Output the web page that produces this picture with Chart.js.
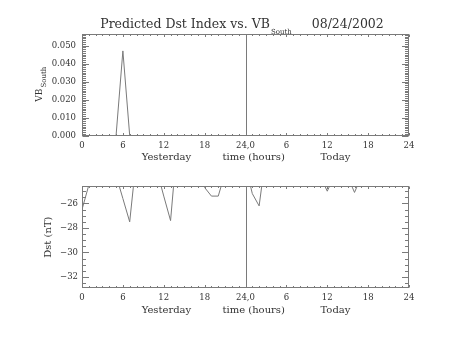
<!DOCTYPE html>
<html>
<head>
<meta charset="utf-8">
<script src="https://cdn.jsdelivr.net/npm/chart.js@4.4.0/dist/chart.umd.min.js"></script>
<style>
  html, body { margin: 0; padding: 0; background: #fff; }
  #wrap { position: relative; width: 453px; height: 340px; }
  .panel { position: absolute; left: 0; width: 453px; height: 170px; }
</style>
</head>
<body>
<div id="wrap">
  <div class="panel" style="top:0"><canvas id="vb" width="453" height="170"></canvas></div>
  <div class="panel" style="top:170px"><canvas id="dst" width="453" height="170"></canvas></div>
</div>
<script>
// hourly samples, yesterday 0-23 then today 24-47
const hours = [0, 1, 2, 3, 4, 5, 6, 7, 8, 9, 10, 11, 12, 13, 14, 15, 16, 17, 18, 19, 20, 21, 22, 23,
               24, 25, 26, 27, 28, 29, 30, 31, 32, 33, 34, 35, 36, 37, 38, 39, 40, 41, 42, 43, 44, 45, 46, 47];
const vbSouth = [0, 0, 0, 0, 0, 0, 0.047, 0, 0, 0, 0, 0, 0, 0, 0, 0, 0, 0, 0, 0, 0, 0, 0, 0,
                 0, 0, 0, 0, 0, 0, 0, 0, 0, 0, 0, 0, 0, 0, 0, 0, 0, 0, 0, 0, 0, 0, 0, 0];
const dst = [-26.5, -24.5, -23.8, -23.5, -23.6, -23.7, -25.6, -27.5, -22.2, -22.6,
             -23.1, -23.3, -25.4, -27.4, -21.0, -22.4, -23.2, -24.0, -24.7, -25.4,
             -25.4, -23.5, -23.0, -22.8, -22.9, -25.2, -26.2, -22.0, -23.0, -23.5,
             -23.8, -24.0, -23.9, -23.7, -23.9, -23.8, -25.0, -23.8, -24.0, -23.8,
             -25.1, -23.8, -24.0, -23.6, -23.2, -23.5, -23.9, -24.1];
const xTickLabels = ['0', '6', '12', '18', '24,0', '6', '12', '18', '24'];
const dayLabels = ['Yesterday', 'time (hours)', 'Today'];
const dayLabelHours = [12.4, 25.2, 37.2];
const dayBoundary = 24;

const AXIS = '#7a7a7a';
const INK = '#333333';
const SERIF = '"DejaVu Serif", serif';

function pts(ys) {
  return hours.map((h, i) => ({ x: h, y: ys[i] }));
}

// box, inward ticks, day marker and the labels under the time axis
function frame(o) {
  return {
    id: 'frame',
    afterDraw(chart) {
      const { ctx, chartArea: a, scales: { x, y } } = chart;
      const L = Math.round(a.left) + 0.5, R = Math.round(a.right) - 0.5;
      const T = Math.round(a.top) + 0.5, B = Math.round(a.bottom) - 0.5;
      ctx.save();
      ctx.strokeStyle = AXIS;
      ctx.lineWidth = 1;
      ctx.strokeRect(L, T, R - L, B - T);

      ctx.beginPath();
      for (let h = x.min; h <= x.max; h += 1) {
        const px = Math.round(x.getPixelForValue(h)) + 0.5;
        const len = h % 6 === 0 ? 2.5 : 1.5;
        ctx.moveTo(px, B); ctx.lineTo(px, B - len);
        ctx.moveTo(px, T); ctx.lineTo(px, T + len);
      }
      const k0 = Math.ceil(y.min / o.minor - 1e-6), k1 = Math.floor(y.max / o.minor + 1e-6);
      for (let k = k0; k <= k1; k++) {
        const py = Math.round(y.getPixelForValue(k * o.minor)) + 0.5;
        const len = k % o.per === 0 ? 6.5 : 3.5;
        ctx.moveTo(L, py); ctx.lineTo(L + len, py);
        ctx.moveTo(R, py); ctx.lineTo(R - len, py);
      }
      const mx = Math.round(x.getPixelForValue(dayBoundary)) + 0.5;
      ctx.moveTo(mx, T); ctx.lineTo(mx, B);
      ctx.stroke();

      ctx.fillStyle = INK;
      ctx.font = '10px ' + SERIF;
      ctx.textAlign = 'center';
      ctx.textBaseline = 'middle';
      dayLabels.forEach((t, i) => {
        ctx.fillText(t, x.getPixelForValue(dayLabelHours[i]), a.bottom + 22);
      });

      // rotated y title, with optional subscript
      const cy = (a.top + a.bottom) / 2;
      ctx.translate(o.titleX, cy);
      ctx.rotate(-Math.PI / 2);
      ctx.font = o.titleSize + 'px ' + SERIF;
      const w1 = ctx.measureText(o.title).width;
      let w2 = 0;
      if (o.sub) {
        ctx.font = '7px ' + SERIF;
        w2 = ctx.measureText(o.sub).width;
      }
      const start = -(w1 + w2) / 2;
      ctx.textAlign = 'left';
      ctx.font = o.titleSize + 'px ' + SERIF;
      ctx.fillText(o.title, start, 0);
      if (o.sub) {
        ctx.font = '7px ' + SERIF;
        ctx.fillText(o.sub, start + w1 + 1, 5);
      }
      ctx.restore();
    }
  };
}

// plot heading with subscript
const heading = {
  id: 'heading',
  afterDraw(chart) {
    const ctx = chart.ctx;
    const main = 'Predicted Dst Index vs. VB', sub = 'South', date = '08/24/2002';
    ctx.save();
    ctx.fillStyle = INK;
    ctx.textBaseline = 'alphabetic';
    ctx.textAlign = 'left';
    ctx.font = '12.5px ' + SERIF;
    const wm = ctx.measureText(main).width, wd = ctx.measureText(date).width;
    ctx.font = '7px ' + SERIF;
    const ws = ctx.measureText(sub).width;
    const gap = 21;
    let x0 = 242 - (wm + ws + gap + wd) / 2;
    ctx.font = '12.5px ' + SERIF;
    ctx.fillText(main, x0, 28);
    ctx.font = '7px ' + SERIF;
    ctx.fillText(sub, x0 + wm + 1, 34);
    ctx.font = '12.5px ' + SERIF;
    ctx.fillText(date, x0 + wm + ws + gap, 28);
    ctx.restore();
  }
};

function xScale(height) {
  return {
    type: 'linear',
    min: 0,
    max: 48,
    grid: { display: false, drawTicks: false },
    border: { display: false },
    ticks: {
      stepSize: 6,
      autoSkip: false,
      maxRotation: 0,
      padding: 5,
      color: INK,
      font: { family: SERIF, size: 8.5 },
      callback: v => xTickLabels[v / 6]
    },
    afterFit: s => { s.height = height; }
  };
}

function makeChart(id, values, yOpts, pad, xh, frameOpts, extra) {
  return new Chart(document.getElementById(id), {
    type: 'line',
    data: {
      datasets: [{
        data: pts(values),
        borderColor: AXIS,
        borderWidth: 1,
        pointRadius: 0,
        tension: 0,
        fill: false
      }]
    },
    options: {
      responsive: false,
      animation: false,
      layout: { padding: pad },
      plugins: { legend: { display: false }, tooltip: { enabled: false } },
      scales: {
        x: xScale(xh),
        y: Object.assign({
          type: 'linear',
          grid: { display: false, drawTicks: false },
          border: { display: false },
          afterFit: s => { s.width = 82; }
        }, yOpts)
      }
    },
    plugins: [frame(frameOpts)].concat(extra)
  });
}

makeChart('vb', vbSouth, {
  min: 0,
  max: 0.0564,
  ticks: {
    stepSize: 0.01,
    includeBounds: false,
    padding: 6,
    color: INK,
    font: { family: SERIF, size: 8.5 },
    callback: v => v.toFixed(3)
  }
}, { left: 0, right: 44, top: 34, bottom: 0 }, 34.5,
  { minor: 0.001, per: 10, title: 'VB', sub: 'South', titleSize: 9, titleX: 39.5 }, [heading]);

makeChart('dst', dst, {
  min: -32.9,
  max: -24.6,
  ticks: {
    stepSize: 2,
    includeBounds: false,
    padding: 4,
    color: INK,
    font: { family: SERIF, size: 8.5 },
    callback: v => '\u2212' + Math.abs(v)
  }
}, { left: 0, right: 44, top: 16.3, bottom: 0 }, 52,
  { minor: 0.5, per: 4, title: 'Dst (nT)', sub: '', titleSize: 10, titleX: 48.5 }, []);
</script>
</body>
</html>
